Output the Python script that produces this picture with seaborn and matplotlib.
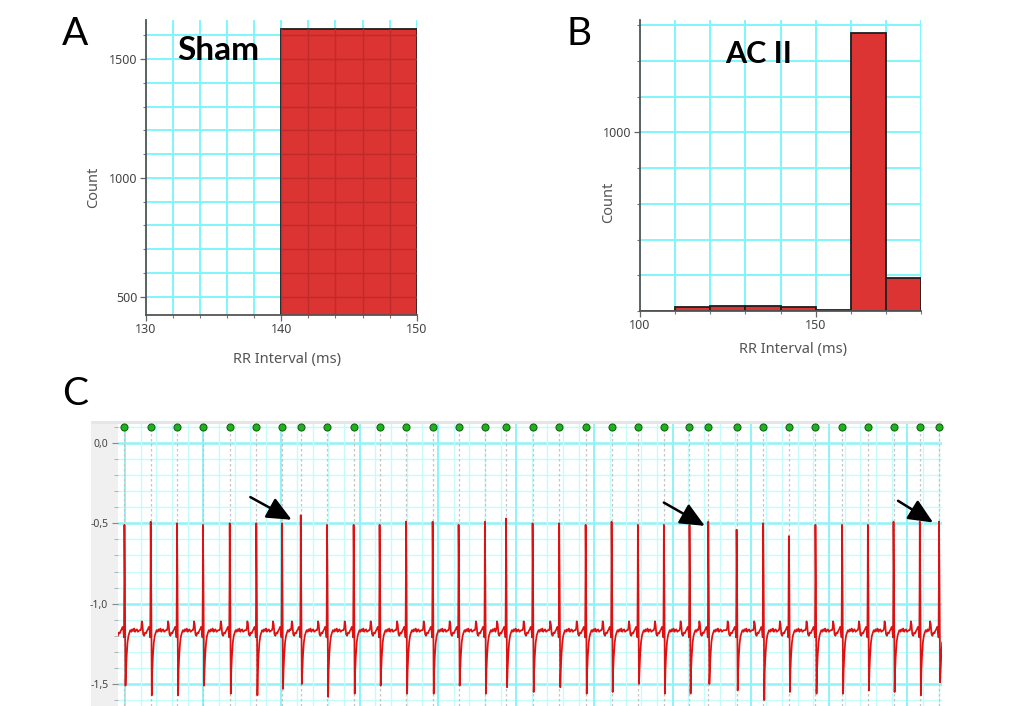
import numpy as np
import pandas as pd
import matplotlib
matplotlib.use("Agg")
import matplotlib.pyplot as plt
import seaborn as sns
from matplotlib.ticker import MultipleLocator, FuncFormatter, FixedLocator
from matplotlib.patches import Rectangle

# ---------------- data ----------------
# Panel A: Sham RR-interval histogram
sham_bin_edges = [130, 140, 150]
sham_counts = [0, 1626]

# Panel B: AC II RR-interval histogram
ac_bin_edges = [100, 110, 120, 130, 140, 150, 160, 170, 180]
ac_counts = [0, 21, 28, 28, 21, 5, 1556, 183]

# Panel C: ECG trace (time in s, amplitude in mV)
beat_times = [0.996, 1.164, 1.332, 1.498, 1.669, 1.839, 2.003, 2.123, 2.291, 2.461,
              2.627, 2.796, 2.966, 3.132, 3.300, 3.435, 3.605, 3.775, 3.944, 4.110,
              4.278, 4.444, 4.608, 4.728, 4.909, 5.079, 5.243, 5.413, 5.583, 5.748,
              5.912, 6.080, 6.203]
r_peaks = [-0.51, -0.49, -0.50, -0.51, -0.50, -0.50, -0.50, -0.45, -0.51, -0.51,
           -0.51, -0.49, -0.49, -0.51, -0.49, -0.47, -0.50, -0.50, -0.51, -0.49,
           -0.51, -0.51, -0.51, -0.49, -0.54, -0.50, -0.58, -0.51, -0.51, -0.51,
           -0.49, -0.49, -0.49]
s_troughs = [-1.51, -1.57, -1.57, -1.51, -1.56, -1.57, -1.53, -1.50, -1.58, -1.56,
             -1.51, -1.56, -1.56, -1.51, -1.56, -1.52, -1.55, -1.52, -1.56, -1.55,
             -1.50, -1.56, -1.56, -1.50, -1.54, -1.60, -1.55, -1.56, -1.56, -1.54,
             -1.55, -1.57, -1.49]
# beat waveform (offsets relative to R peak, s)
pre_offsets = [-0.064, -0.060, -0.057, -0.053, -0.048, -0.042, -0.036, -0.030,
               -0.024, -0.018, -0.012, -0.008, -0.005, -0.003, -0.001]
pre_values = [-1.165, -1.15, -1.11, -1.13, -1.19, -1.20, -1.18, -1.185,
              -1.17, -1.16, -1.145, -1.15, -1.19, -1.21, -0.86]
shoulder_offset, shoulder_value = 0.003, -0.86
s_offset = 0.007
post_offsets = [0.010, 0.014, 0.020, 0.026, 0.032, 0.038, 0.044, 0.050, 0.056,
                0.062, 0.068, 0.074, 0.080, 0.086, 0.092, 0.098]
post_values = [-1.42, -1.33, -1.24, -1.20, -1.18, -1.165, -1.175, -1.16, -1.17,
               -1.155, -1.175, -1.165, -1.16, -1.175, -1.17, -1.165]
marker_level = 0.10
# arrows (tail -> tip) in data coordinates of panel C
arrow_tails = [(1.801, -0.337), (4.444, -0.371), (5.941, -0.360)]
arrow_tips = [(2.065, -0.478), (4.706, -0.516), (6.165, -0.495)]

# ---------------- style ----------------
sns.set_style("white")
plt.rcParams["font.family"] = ["Noto Sans", "DejaVu Sans"]

W, H = 1019, 706
fig = plt.figure(figsize=(W / 100, H / 100), dpi=100)

def fax(l, t, r, b):
    return fig.add_axes([l / W, 1 - b / H, (r - l) / W, (b - t) / H])

GRID = "#7ff6fb"
TICKC = "#444444"

def hist_panel(ax, edges, counts, xlim, ylim, xmaj, xmin, ymaj_locs, ymin, overlay,
               ylabel_xy, xlabel_xy):
    centers = [(a + b) / 2 for a, b in zip(edges[:-1], edges[1:])]
    df = pd.DataFrame({"rr": centers, "n": counts})
    sns.histplot(data=df, x="rr", weights="n", bins=edges, ax=ax,
                 color="#dc3333", alpha=1.0, edgecolor="#1e1e1e", linewidth=1.3,
                 zorder=2)
    ax.set_xlim(*xlim)
    ax.set_ylim(*ylim)
    ax.xaxis.set_major_locator(MultipleLocator(xmaj))
    ax.xaxis.set_minor_locator(MultipleLocator(xmin))
    ax.yaxis.set_major_locator(FixedLocator(ymaj_locs))
    ax.yaxis.set_minor_locator(MultipleLocator(ymin))
    ax.grid(True, which="both", color=GRID, lw=1.4, zorder=0)
    ax.set_axisbelow(True)
    for s in ["top", "right"]:
        ax.spines[s].set_visible(False)
    for s in ["left", "bottom"]:
        ax.spines[s].set_color("#555555")
        ax.spines[s].set_linewidth(1.3)
    ax.tick_params(which="major", direction="out", length=4, width=0.9,
                   color="#666666", labelsize=9, labelcolor=TICKC, pad=2,
                   left=True, bottom=True)
    ax.tick_params(which="minor", direction="out", length=2.5, width=0.8,
                   color="#777777", left=True, bottom=True)
    ax.set_xlabel("RR Interval (ms)", fontsize=10.5, color="#555555")
    ax.set_ylabel("Count", fontsize=10.5, color="#555555")
    ax.yaxis.set_label_coords(*ylabel_xy)
    ax.xaxis.set_label_coords(*xlabel_xy)
    if overlay:
        xs = np.arange(xlim[0], xlim[1] + 0.01, xmin)
        ys = [y for y in np.arange(0, ylim[1], ymin) if y >= ylim[0]]
        for p in list(ax.patches):
            for x in xs:
                ln, = ax.plot([x, x], [ylim[0], ylim[1]], color="#bd2b2b", lw=1.0, zorder=3)
                ln.set_clip_path(p)
            for y in ys:
                ln, = ax.plot([xlim[0], xlim[1]], [y, y], color="#bd2b2b", lw=1.0, zorder=3)
                ln.set_clip_path(p)

# Panel A
axA = fax(145.7, 20, 416.7, 315)
hist_panel(axA, sham_bin_edges, sham_counts, (130, 150), (423, 1664),
           10, 2, [500, 1000, 1500], 100, overlay=True,
           ylabel_xy=(-0.163, 0.434), xlabel_xy=(0.521, -0.125))

# Panel B
axB = fax(640, 20, 921, 311)
hist_panel(axB, ac_bin_edges, ac_counts, (100, 180), (0, 1630),
           50, 10, [1000], 200, overlay=False,
           ylabel_xy=(-0.084, 0.375), xlabel_xy=(0.545, -0.108))

fig.text(218 / W, 1 - 50 / H, "Sham", family=["Lato", "DejaVu Sans"], fontweight="bold",
         fontsize=24, ha="center", va="center", color="black", zorder=5)
fig.text(759 / W, 1 - 54 / H, "AC II", family=["Lato", "DejaVu Sans"], fontweight="bold",
         fontsize=22, ha="center", va="center", color="black", zorder=5)

# Panel C
fig.add_artist(Rectangle((91 / W, 0), 27 / W, 1 - 421 / H, transform=fig.transFigure,
                         facecolor="#f0f0f0", edgecolor="none", zorder=0))
fig.add_artist(Rectangle((91 / W, 1 - 424 / H), (942 - 91) / W, 3 / H,
                         transform=fig.transFigure, facecolor="#e6e6e6",
                         edgecolor="none", zorder=0))
axC = fax(118, 424, 942, 706)
t_list, v_list = [], []
n = len(beat_times)
for i, tr in enumerate(beat_times):
    for o, v in zip(pre_offsets, pre_values):
        t_list.append(tr + o); v_list.append(v)
    t_list.append(tr); v_list.append(r_peaks[i])
    t_list.append(tr + shoulder_offset); v_list.append(shoulder_value)
    t_list.append(tr + s_offset); v_list.append(s_troughs[i])
    limit = beat_times[i + 1] + pre_offsets[0] if i < n - 1 else np.inf
    for o, v in zip(post_offsets, post_values):
        if tr + o < limit - 0.002:
            t_list.append(tr + o); v_list.append(v)
ecg = pd.DataFrame({"t": t_list, "mV": v_list})

xl = (0.955, 6.222)
yl = (-1.637, 0.118)
axC.set_xlim(*xl)
axC.set_ylim(*yl)
for y in np.arange(-1.6, 0.11, 0.1):
    major = abs(y / 0.5 - round(y / 0.5)) < 1e-6
    axC.axhline(y, color="#8ff3f7" if major else "#c6fbfc", lw=1.8 if major else 1.0, zorder=0)
for x in np.arange(1.0, 6.25, 0.1):
    major = abs(x / 0.5 - round(x / 0.5)) < 1e-6
    axC.axvline(x, color="#8ff3f7" if major else "#c6fbfc", lw=1.4 if major else 1.0, zorder=0)
axC.vlines(beat_times, yl[0], marker_level, colors="#c4c4c4", linestyles=(0, (2, 2)),
           lw=0.9, zorder=1)
sns.lineplot(data=ecg, x="t", y="mV", ax=axC, color="#dd1111", lw=1.25,
             estimator=None, sort=False, zorder=3)
sns.scatterplot(x=beat_times, y=[marker_level] * n, ax=axC, color="#1fb21f",
                edgecolor="#0b5e0b", linewidth=0.7, s=26, zorder=5, clip_on=False)
for (tx, ty), (hx, hy) in zip(arrow_tails, arrow_tips):
    axC.annotate("", xy=(hx, hy), xytext=(tx, ty),
                 arrowprops=dict(arrowstyle="-|>,head_length=1.0,head_width=0.45",
                                 color="black", lw=1.8, shrinkA=0, shrinkB=0,
                                 mutation_scale=15),
                 zorder=6)
axC.set_xlabel(""); axC.set_ylabel("")
for s in axC.spines.values():
    s.set_visible(False)
axC.yaxis.set_major_locator(FixedLocator([0.0, -0.5, -1.0, -1.5]))
axC.yaxis.set_minor_locator(MultipleLocator(0.1))
axC.yaxis.set_major_formatter(FuncFormatter(lambda v, p: f"{v:.1f}".replace(".", ",")))
axC.tick_params(axis="y", which="major", direction="out", length=4, color="#888888",
                labelsize=7.5, labelcolor="#444444", pad=3, left=True)
axC.tick_params(axis="y", which="minor", direction="out", length=3, color="#aaaaaa",
                left=True)
axC.tick_params(axis="x", which="both", bottom=False, labelbottom=False)
axC.grid(False)

# panel letters
for lab, x, y in [("A", 62, 45), ("B", 566, 45), ("C", 62, 405)]:
    fig.text(x / W, 1 - y / H, lab, fontsize=28, family=["Lato", "DejaVu Sans"],
             ha="left", va="baseline", color="black")

fig.savefig("out.png", dpi=100, facecolor="white")
